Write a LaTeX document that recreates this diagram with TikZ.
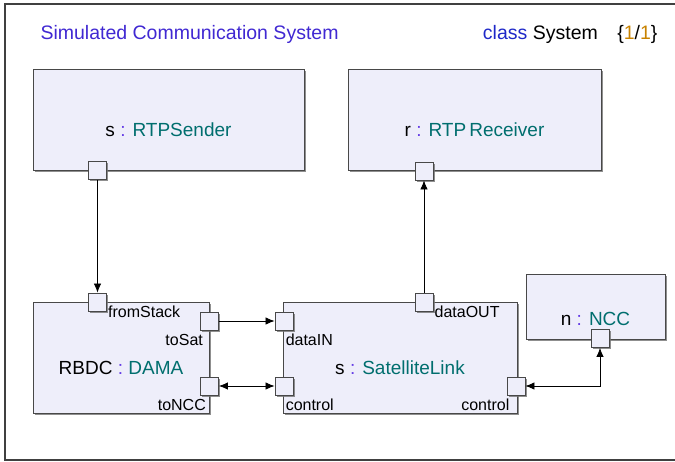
\documentclass[tikz,border=0pt]{standalone}
\usepackage{fontspec}
\setmainfont{Liberation Sans}
\usetikzlibrary{shadows,arrows.meta}

\definecolor{boxfill}{RGB}{238,238,250}
\definecolor{boxline}{RGB}{72,72,72}
\definecolor{titleblue}{RGB}{64,40,210}
\definecolor{kwblue}{RGB}{30,40,200}
\definecolor{typeteal}{RGB}{0,110,110}
\definecolor{colonblue}{RGB}{100,60,230}
\definecolor{numorange}{RGB}{200,130,0}

\newcommand{\inst}[2]{#1 {\color{colonblue}:} {\color{typeteal}#2}}

\begin{document}
\begin{tikzpicture}[x=1pt,y=-1pt,
  part/.style={draw=boxline, fill=boxfill, line width=0.9pt, inner sep=0pt,
    drop shadow={shadow xshift=1.5pt, shadow yshift=-1.5pt, fill=black!55, opacity=0.8}},
  port/.style={part, minimum size=18pt},
  partname/.style={font=\fontsize{19}{21}\selectfont},
  portname/.style={font=\fontsize{16}{18}\selectfont, inner sep=0pt},
  conn/.style={line width=0.8pt, -{Latex[length=9pt,width=7.5pt]}},
  both/.style={line width=0.8pt, {Latex[length=9pt,width=7.5pt]}-{Latex[length=9pt,width=7.5pt]}}]

\useasboundingbox (0,0) rectangle (675,461);

    %frame
    \draw[line width=1.2pt, black!75] (5,4) rectangle (690,460);

    %header
    \node[anchor=west, text=titleblue, font=\fontsize{19.5}{21}\selectfont] (title) at (37,34) {Simulated Communication System};
    \node[anchor=east, font=\fontsize{19.5}{21}\selectfont] (cls) at (661,34)
        {{\color{kwblue}class} System\quad\{{\color{numorange}1}/{\color{numorange}1}\}};

    %parts
    \node[part, minimum width=271pt, minimum height=101pt] (sender) at (168.5,119.5) {};
    \node[part, minimum width=253pt, minimum height=101pt] (receiver) at (474.5,119.5) {};
    \node[part, minimum width=176pt, minimum height=111pt] (dama) at (121,357.5) {};
    \node[part, minimum width=234pt, minimum height=111pt] (link) at (400,357.5) {};
    \node[part, minimum width=139pt, minimum height=65pt] (ncc) at (595.5,306.5) {};

    \node[partname] (sendername) at ([yshift=-10pt]sender.center) {\inst{s}{RTPSender}};
    \node[partname] (receivername) at ([yshift=-10pt]receiver.center) {\inst{r}{RTP\,Receiver}};
    \node[partname] (damaname) at ([yshift=-10pt]dama.center) {\inst{RBDC}{DAMA}};
    \node[partname] (linkname) at ([yshift=-10pt]link.center) {\inst{s}{SatelliteLink}};
    \node[partname] (nccname) at ([yshift=-12pt]ncc.center) {\inst{n}{NCC}};

    %ports
    \node[port] (sp) at (97.5,170.5) {};
    \node[port] (rp) at (424,171) {};
    \node[port] (fs) at (97.5,302) {};
    \node[port] (ts) at (209.5,321) {};
    \node[port] (tn) at (209.5,386) {};
    \node[port] (di) at (284,321) {};
    \node[port] (cl) at (284,386) {};
    \node[port] (dout) at (424,302) {};
    \node[port] (cr) at (516,386) {};
    \node[port] (np) at (600,338.5) {};

    %port names
    \node[portname, anchor=base west] (fsname) at ([xshift=1pt,yshift=-6pt]fs.south east) {fromStack};
    \node[portname, anchor=base east] (tsname) at ([xshift=3pt,yshift=-15pt]ts.south west) {toSat};
    \node[portname, anchor=base east] (tnname) at ([xshift=6pt,yshift=-15pt]tn.south west) {toNCC};
    \node[portname, anchor=base west] (diname) at ([xshift=11pt,yshift=-15pt]di.south west) {dataIN};
    \node[portname, anchor=base west] (clname) at ([xshift=11pt,yshift=-15pt]cl.south west) {control};
    \node[portname, anchor=base west] (doutname) at ([xshift=1pt,yshift=-6pt]dout.south east) {dataOUT};
    \node[portname, anchor=base east] (crname) at ([xshift=3pt,yshift=-15pt]cr.south west) {control};

    %connectors
    \draw[conn] (sp) -- (fs);
    \draw[conn] (dout) -- (rp);
    \draw[conn] (ts) -- (di);
    \draw[both] (tn) -- (cl);
    \draw[both] (np) |- (cr);
\end{tikzpicture}
\end{document}
